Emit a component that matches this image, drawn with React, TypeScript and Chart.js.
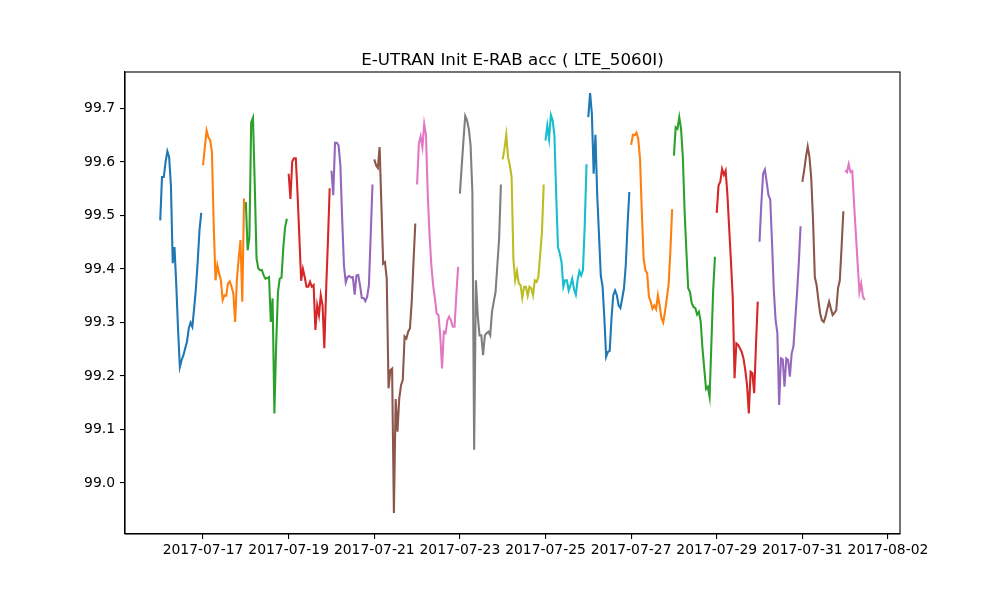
import React, { useEffect, useRef } from "react";
import { Chart, registerables } from "chart.js";

Chart.register(...registerables);

// hourly values, one array per day (starting 2017-07-16 00:00)
const d0716 = [99.491, 99.572, 99.572, 99.6, 99.62, 99.609, 99.556, 99.411, 99.441, 99.37, 99.287, 99.217, 99.23, 99.239, 99.252, 99.264, 99.289, 99.3, 99.292, 99.326, 99.364, 99.413, 99.472, 99.505];
const d0717 = [99.594, 99.628, 99.659, 99.646, 99.641, 99.618, 99.48, 99.379, 99.407, 99.392, 99.379, 99.342, 99.351, 99.35, 99.373, 99.377, 99.367, 99.354, 99.301, 99.382, 99.42, 99.454, 99.339, 99.532];
const d0718 = [99.525, 99.435, 99.46, 99.674, 99.683, 99.556, 99.42, 99.401, 99.398, 99.398, 99.388, 99.382, 99.383, 99.385, 99.301, 99.345, 99.13, 99.258, 99.357, 99.382, 99.384, 99.44, 99.478, 99.494];
const d0719 = [99.578, 99.531, 99.601, 99.607, 99.607, 99.54, 99.46, 99.378, 99.4, 99.385, 99.367, 99.367, 99.376, 99.367, 99.37, 99.286, 99.332, 99.314, 99.351, 99.332, 99.252, 99.36, 99.45, 99.551];
const d0720 = [99.584, 99.538, 99.636, 99.636, 99.631, 99.594, 99.494, 99.407, 99.375, 99.385, 99.387, 99.384, 99.385, 99.352, 99.388, 99.389, 99.37, 99.346, 99.346, 99.34, 99.348, 99.37, 99.463, 99.558];
const d0721 = [99.605, 99.594, 99.589, 99.628, 99.519, 99.41, 99.413, 99.382, 99.177, 99.211, 99.214, 98.944, 99.157, 99.096, 99.158, 99.183, 99.193, 99.274, 99.27, 99.283, 99.289, 99.339, 99.413, 99.485];
const d0722 = [99.558, 99.634, 99.648, 99.628, 99.671, 99.65, 99.538, 99.463, 99.407, 99.37, 99.345, 99.317, 99.314, 99.276, 99.214, 99.283, 99.28, 99.304, 99.311, 99.304, 99.292, 99.292, 99.351, 99.404];
const d0723 = [99.541, 99.591, 99.64, 99.686, 99.678, 99.662, 99.631, 99.544, 99.062, 99.379, 99.314, 99.276, 99.276, 99.239, 99.276, 99.28, 99.283, 99.276, 99.32, 99.339, 99.357, 99.407, 99.457, 99.558];
const d0724 = [99.605, 99.625, 99.651, 99.609, 99.594, 99.572, 99.42, 99.379, 99.396, 99.373, 99.37, 99.346, 99.367, 99.367, 99.35, 99.367, 99.364, 99.351, 99.379, 99.376, 99.385, 99.426, 99.469, 99.558];
const d0725 = [99.64, 99.668, 99.643, 99.688, 99.678, 99.65, 99.538, 99.441, 99.429, 99.413, 99.367, 99.379, 99.379, 99.36, 99.37, 99.382, 99.362, 99.352, 99.379, 99.396, 99.388, 99.398, 99.482, 99.596];
const d0726 = [99.684, 99.729, 99.69, 99.578, 99.651, 99.538, 99.463, 99.388, 99.367, 99.308, 99.236, 99.245, 99.247, 99.308, 99.351, 99.36, 99.351, 99.332, 99.327, 99.345, 99.364, 99.407, 99.482, 99.544];
const d0727 = [99.632, 99.651, 99.65, 99.655, 99.643, 99.606, 99.507, 99.42, 99.398, 99.392, 99.348, 99.339, 99.326, 99.332, 99.325, 99.351, 99.332, 99.308, 99.3, 99.32, 99.345, 99.37, 99.432, 99.512];
const d0728 = [99.612, 99.665, 99.662, 99.684, 99.662, 99.609, 99.507, 99.432, 99.364, 99.357, 99.336, 99.329, 99.327, 99.315, 99.32, 99.302, 99.252, 99.214, 99.176, 99.18, 99.161, 99.26, 99.36, 99.423];
const d0729 = [99.505, 99.556, 99.563, 99.587, 99.576, 99.584, 99.538, 99.475, 99.413, 99.345, 99.196, 99.261, 99.258, 99.252, 99.245, 99.233, 99.211, 99.183, 99.13, 99.208, 99.205, 99.168, 99.258, 99.339];
const d0730 = [99.451, 99.522, 99.578, 99.586, 99.563, 99.538, 99.53, 99.45, 99.36, 99.305, 99.28, 99.146, 99.233, 99.231, 99.18, 99.233, 99.23, 99.199, 99.242, 99.255, 99.304, 99.354, 99.41, 99.48];
const d0731 = [99.563, 99.584, 99.609, 99.629, 99.609, 99.569, 99.491, 99.385, 99.37, 99.342, 99.317, 99.304, 99.301, 99.311, 99.326, 99.339, 99.326, 99.314, 99.318, 99.323, 99.364, 99.379, 99.441, 99.508];
const d0801 = [99.584, 99.581, 99.596, 99.581, 99.583, 99.522, 99.466, 99.41, 99.357, 99.373, 99.348, 99.342];

const days = [d0716, d0717, d0718, d0719, d0720, d0721, d0722, d0723, d0724, d0725, d0726, d0727, d0728, d0729, d0730, d0731, d0801];

const palette = ["#1f77b4", "#ff7f0e", "#2ca02c", "#d62728", "#9467bd", "#8c564b", "#e377c2", "#7f7f7f", "#bcbd22", "#17becf"];

// x ticks: days since 2017-07-16
const xTickDays = [1, 3, 5, 7, 9, 11, 13, 15, 17];
const xTickLabels = ["2017-07-17", "2017-07-19", "2017-07-21", "2017-07-23", "2017-07-25", "2017-07-27", "2017-07-29", "2017-07-31", "2017-08-02"];
const yTicks = [99.0, 99.1, 99.2, 99.3, 99.4, 99.5, 99.6, 99.7];

const chartTitle = "E-UTRAN Init E-RAB acc ( LTE_5060I)";
const FONT = "'DejaVu Sans', sans-serif";

const framePlugin = {
  id: "frame",
  afterDraw(chart: any) {
    const { ctx, chartArea } = chart;
    ctx.save();
    ctx.strokeStyle = "#000";
    ctx.lineWidth = 1.1;
    ctx.strokeRect(chartArea.left, chartArea.top, chartArea.right - chartArea.left, chartArea.bottom - chartArea.top);
    ctx.fillStyle = "#000";
    ctx.font = `16.7px ${FONT}`;
    ctx.textAlign = "center";
    ctx.textBaseline = "alphabetic";
    ctx.fillText(chartTitle, (chartArea.left + chartArea.right) / 2, chartArea.top - 7);
    ctx.restore();
  },
};

const App: React.FC = () => {
  const canvasRef = useRef<HTMLCanvasElement | null>(null);

  useEffect(() => {
    if (!canvasRef.current) return;
    const ctx = canvasRef.current.getContext("2d");
    if (!ctx) return;

    const datasets = days.map((vals, d) => ({
      data: vals.map((v, h) => ({ x: d + h / 24, y: v })),
      borderColor: palette[d % palette.length],
      backgroundColor: palette[d % palette.length],
      borderWidth: 2.08,
      pointRadius: 0,
      tension: 0,
      fill: false,
    }));

    const lastDay = days.length - 1;
    const xMaxData = lastDay + (days[lastDay].length - 1) / 24;
    const allY = days.flat();
    const yMinData = Math.min(...allY);
    const yMaxData = Math.max(...allY);
    const xPad = xMaxData * 0.05;
    const yPad = (yMaxData - yMinData) * 0.05;

    const tickFont = { family: FONT, size: 13.9 };

    const chart = new Chart(ctx, {
      type: "line",
      data: { datasets },
      plugins: [framePlugin],
      options: {
        animation: false,
        responsive: true,
        maintainAspectRatio: false,
        layout: { padding: { top: 72, right: 100, left: 0, bottom: 0 } },
        plugins: {
          legend: { display: false },
          tooltip: { enabled: false },
        },
        scales: {
          x: {
            type: "linear",
            min: -xPad,
            max: xMaxData + xPad,
            afterBuildTicks: (scale: any) => {
              scale.ticks = xTickDays.map((v) => ({ value: v }));
            },
            afterFit: (scale: any) => {
              scale.height = 66;
            },
            ticks: {
              autoSkip: false,
              maxRotation: 0,
              color: "#000",
              font: tickFont,
              padding: 3,
              callback: (_v: any, i: number) => xTickLabels[i],
            },
            grid: { display: true, drawOnChartArea: false, drawTicks: true, tickLength: 5, color: "#000", lineWidth: 1.1 },
            border: { display: true, color: "#000", width: 1.1 },
          },
          y: {
            type: "linear",
            min: yMinData - yPad,
            max: yMaxData + yPad,
            afterBuildTicks: (scale: any) => {
              scale.ticks = yTicks.map((v) => ({ value: v }));
            },
            afterFit: (scale: any) => {
              scale.width = 125;
            },
            ticks: {
              color: "#000",
              font: tickFont,
              padding: 5,
              callback: (v: any) => Number(v).toFixed(1),
            },
            grid: { display: true, drawOnChartArea: false, drawTicks: true, tickLength: 5, color: "#000", lineWidth: 1.1 },
            border: { display: true, color: "#000", width: 1.1 },
          },
        },
      },
    });

    return () => {
      chart.destroy();
    };
  }, []);

  return (
    <div style={{ position: "absolute", left: 0, top: 0, width: 1000, height: 600, background: "#fff" }}>
      <canvas ref={canvasRef} />
    </div>
  );
};

export default App;
